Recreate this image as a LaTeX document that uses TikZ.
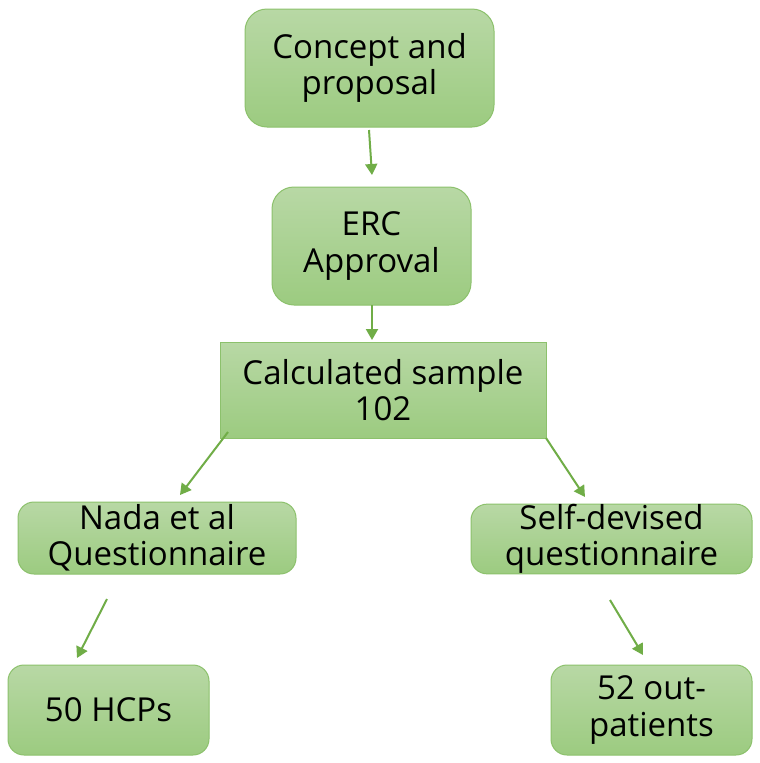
\documentclass[tikz,border=0pt]{standalone}
\usepackage{fontspec}
\setmainfont{Open Sans}
\usetikzlibrary{arrows.meta,shadings}
\definecolor{topg}{RGB}{184,216,165}
\definecolor{botg}{RGB}{156,203,128}
\definecolor{edgeg}{RGB}{140,193,108}
\definecolor{arrg}{RGB}{112,173,71}
\tikzset{
  box/.style={draw=edgeg, line width=1pt, top color=topg, bottom color=botg,
    align=center, inner sep=0pt, font=\fontsize{33}{36.5}\selectfont},
  rbox/.style={box, rounded corners=#1},
  conn/.style={draw=arrg, line width=2pt, -{Triangle[length=11pt,width=12pt]}}
}
\begin{document}
\begin{tikzpicture}[x=1pt,y=1pt]
\useasboundingbox[fill=white] (0,0) rectangle (760,-763);
\node[rbox=22pt, minimum width=249pt, minimum height=118pt] (b1) at (369.5,-68) {Concept and\\proposal};
\node[rbox=22pt, minimum width=199pt, minimum height=118pt] (b2) at (371.5,-246) {ERC\\Approval};
\node[box, minimum width=326pt, minimum height=96pt] (b3) at (383,-390) {Calculated sample\\102};
\node[rbox=16pt, minimum width=278pt, minimum height=72pt] (b4) at (157,-538) {Nada et al\\Questionnaire};
\node[rbox=16pt, minimum width=281pt, minimum height=68pt] (b5) at (611.5,-539) {Self-devised\\questionnaire};
\node[rbox=16pt, minimum width=201pt, minimum height=90pt] (b6) at (108.5,-710) {50 HCPs};
\node[rbox=16pt, minimum width=201pt, minimum height=90pt] (b7) at (651.5,-710) {52 out-\\patients};
\coordinate (s1) at (369,-130); \coordinate (e1) at (372,-175);
\coordinate (s2) at (372,-305); \coordinate (e2) at (372,-340);
\coordinate (s3) at (228,-432); \coordinate (e3) at (180,-495);
\coordinate (s4) at (546,-438); \coordinate (e4) at (585,-497);
\coordinate (s5) at (107,-599); \coordinate (e5) at (77,-658);
\coordinate (s6) at (610,-600); \coordinate (e6) at (643,-655);
\draw[conn] (s1) -- (e1);
\draw[conn] (s2) -- (e2);
\draw[conn] (s3) -- (e3);
\draw[conn] (s4) -- (e4);
\draw[conn] (s5) -- (e5);
\draw[conn] (s6) -- (e6);
\end{tikzpicture}
\end{document}
